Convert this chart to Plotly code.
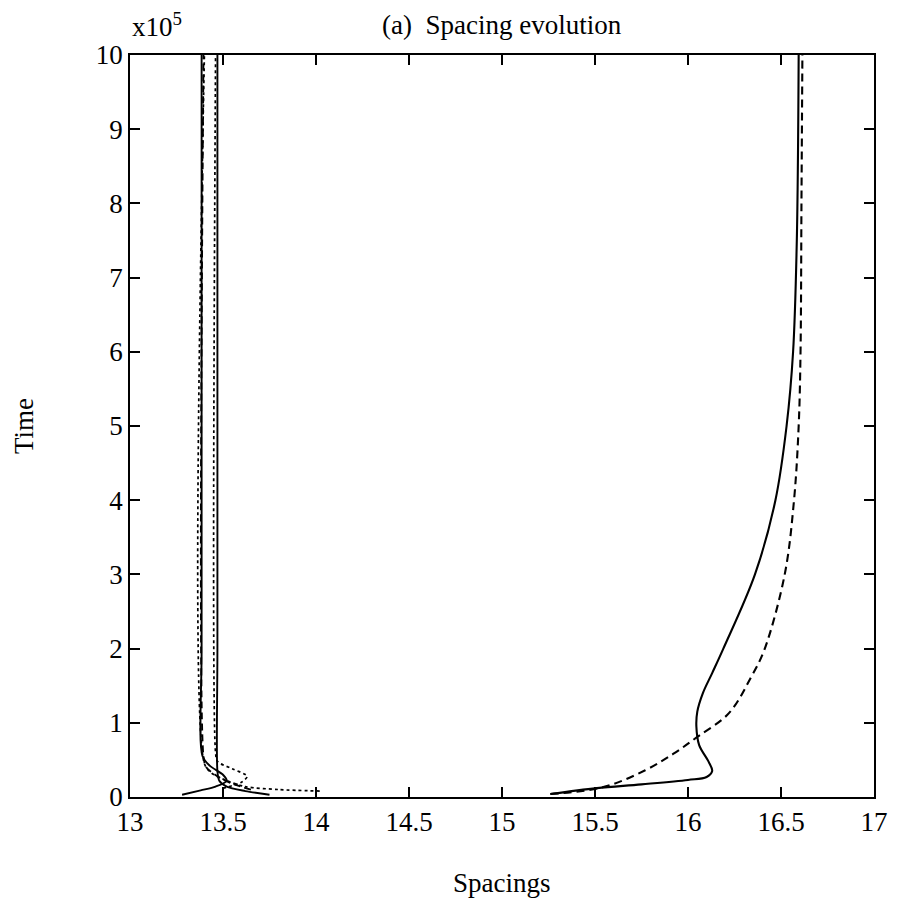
import plotly.graph_objects as go

# ---- data (time in units of 1e5) ----
ls1_x = [13.28, 13.38, 13.46, 13.52, 13.50, 13.43, 13.39, 13.385, 13.385]
ls1_y = [0.03, 0.09, 0.14, 0.22, 0.30, 0.42, 0.55, 2.0, 10.0]

ls2_x = [13.75, 13.62, 13.52, 13.48, 13.47, 13.47, 13.47]
ls2_y = [0.03, 0.08, 0.14, 0.22, 0.35, 2.0, 10.0]

ld1_x = [13.65, 13.55, 13.47, 13.41, 13.395, 13.395]
ld1_y = [0.10, 0.18, 0.28, 0.40, 0.55, 10.0]

lo1_x = [14.02, 13.80, 13.62, 13.52, 13.44, 13.40, 13.40]
lo1_y = [0.08, 0.10, 0.14, 0.22, 0.32, 0.45, 10.0]

lo2_x = [13.50, 13.60, 13.63, 13.55, 13.47, 13.46, 13.46]
lo2_y = [0.12, 0.20, 0.28, 0.38, 0.48, 0.60, 10.0]

rs_x = [15.26, 15.51, 15.75, 16.0, 16.10, 16.13, 16.11, 16.06, 16.045, 16.05,
        16.08, 16.13, 16.19, 16.36, 16.47, 16.53, 16.565, 16.585, 16.595]
rs_y = [0.04, 0.12, 0.17, 0.23, 0.27, 0.35, 0.48, 0.70, 0.95, 1.15,
        1.40, 1.67, 2.0, 3.0, 4.0, 5.0, 6.0, 7.5, 10.0]

rd_x = [15.26, 15.54, 15.77, 15.92, 16.05, 16.22, 16.34, 16.41, 16.52,
        16.57, 16.595, 16.605, 16.61, 16.615]
rd_y = [0.04, 0.13, 0.36, 0.58, 0.81, 1.13, 1.62, 1.98, 3.0,
        4.0, 5.0, 6.0, 8.0, 10.0]

x_ticks = [13, 13.5, 14, 14.5, 15, 15.5, 16, 16.5, 17]
x_labels = ["13", "13.5", "14", "14.5", "15", "15.5", "16", "16.5", "17"]
y_ticks = list(range(0, 11))
y_labels = [str(v) for v in y_ticks]

FONT = "Liberation Serif"
FS = 27

fig = go.Figure()

def add(x, y, dash, width=1.9, smooth=0.8):
    fig.add_trace(go.Scatter(x=x, y=y, mode="lines",
                             line=dict(color="black", width=width, dash=dash,
                                       shape="spline", smoothing=smooth),
                             showlegend=False, hoverinfo="skip"))

add(ls1_x, ls1_y, "solid")
add(ls2_x, ls2_y, "solid")
add(ld1_x, ld1_y, "7px,4px")
add(lo1_x, lo1_y, "dot", 1.7)
add(lo2_x, lo2_y, "dot", 1.7)
add(rs_x, rs_y, "solid", 2.1, 1.0)
add(rd_x, rd_y, "8px,5px", 2.1, 1.0)

axis_common = dict(showline=True, linecolor="black", linewidth=1.8,
                   mirror="ticks", ticks="inside", ticklen=10, tickwidth=1.6,
                   tickcolor="black", showgrid=False, zeroline=False,
                   tickfont=dict(family=FONT, size=FS, color="black"))

fig.update_xaxes(range=[13, 17], tickvals=x_ticks, ticktext=x_labels, **axis_common)
fig.update_yaxes(range=[0, 10], tickvals=y_ticks, ticktext=y_labels, **axis_common)

fig.update_layout(
    width=900, height=907,
    margin=dict(l=130, r=21, t=55, b=110),
    plot_bgcolor="white", paper_bgcolor="white",
    font=dict(family=FONT, size=FS, color="black"),
    annotations=[
        dict(text="(a)  Spacing evolution", xref="paper", yref="paper",
             x=0.5, y=1.0, yshift=30, showarrow=False, xanchor="center",
             yanchor="middle", font=dict(family=FONT, size=FS)),
        dict(text="x10<sup>5</sup>", xref="paper", yref="paper",
             x=0.0, y=1.0, yshift=30, showarrow=False, xanchor="left",
             yanchor="middle", font=dict(family=FONT, size=FS)),
        dict(text="Spacings", xref="paper", yref="paper",
             x=0.5, y=0.0, yshift=-86, showarrow=False, xanchor="center",
             yanchor="middle", font=dict(family=FONT, size=FS)),
        dict(text="Time", xref="paper", yref="paper",
             x=0.0, y=0.5, xshift=-106, showarrow=False, xanchor="center",
             yanchor="middle", textangle=-90, font=dict(family=FONT, size=FS)),
    ],
)

fig.write_html(
    "out.html",
    config={"displayModeBar": False},
    post_script="document.body.style.margin='0';document.body.style.padding='0';"
                "document.body.style.overflow='hidden';"
                "document.documentElement.style.overflow='hidden';",
)
